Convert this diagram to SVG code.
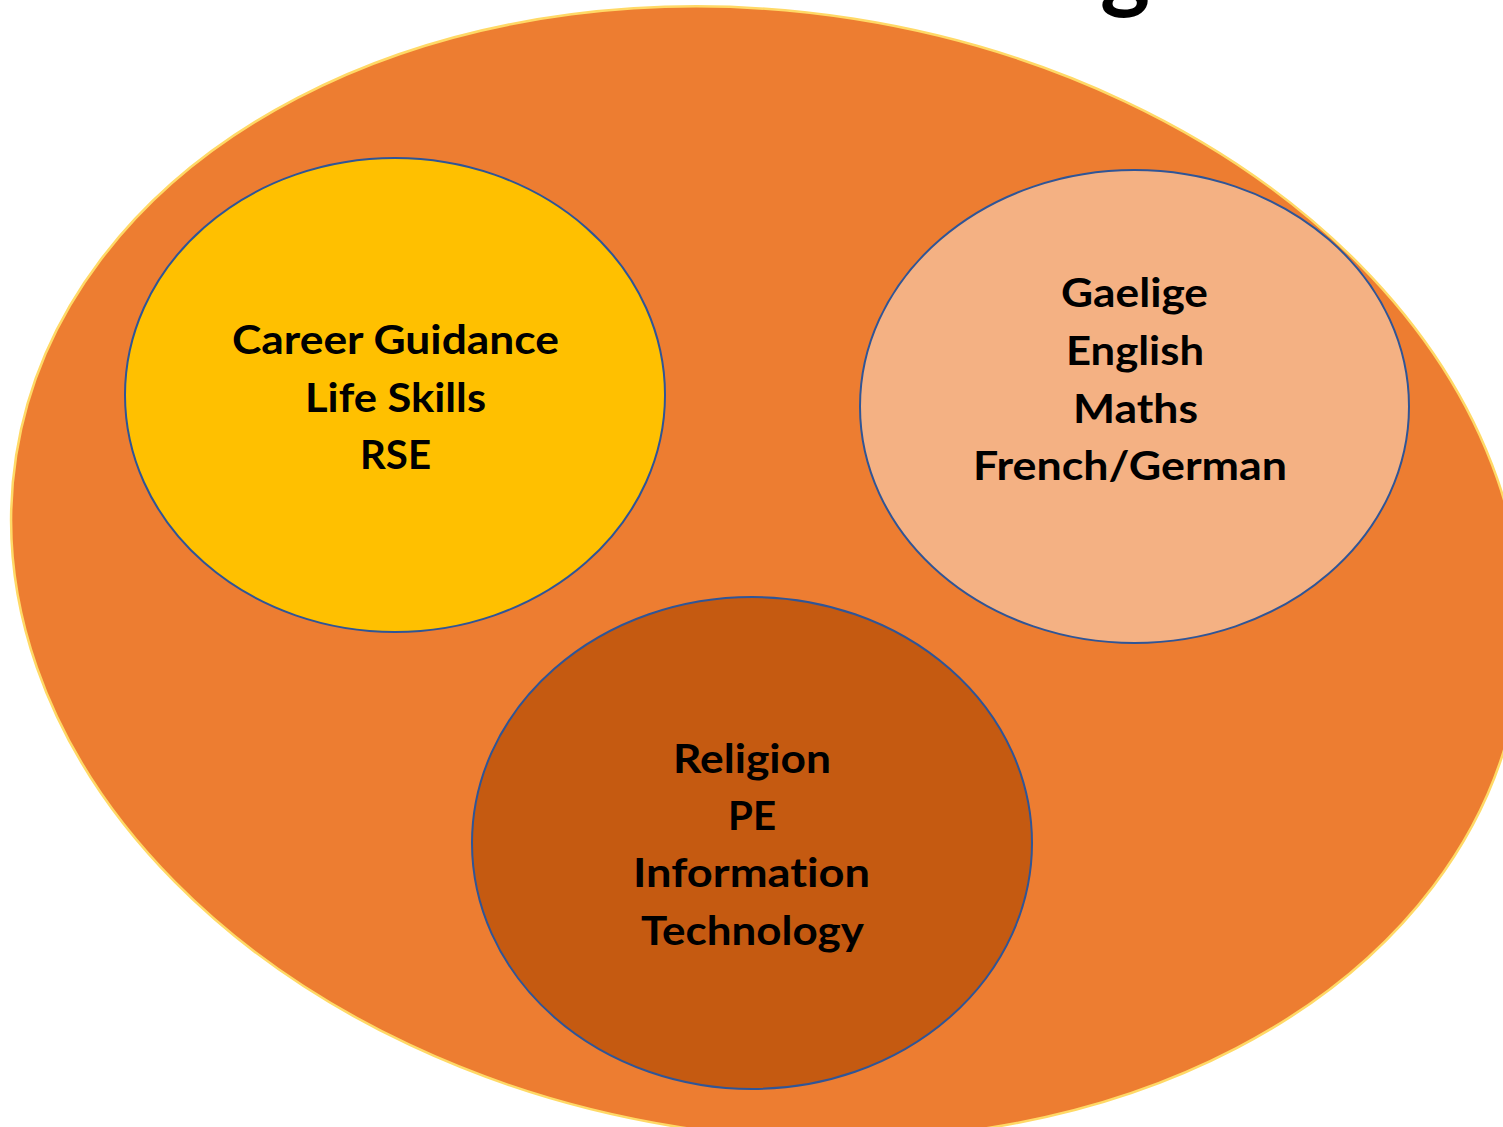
<svg xmlns="http://www.w3.org/2000/svg" width="1503" height="1127" viewBox="0 0 1503 1127">
<style>
.lbl{font-family:Lato,"Open Sans","Liberation Sans",sans-serif;font-weight:bold;font-size:40px;fill:#000;text-anchor:middle;font-variant-ligatures:none;font-feature-settings:"liga" 0,"clig" 0}
.inner{stroke:#2F5597;stroke-width:2}
</style>
<rect width="1503" height="1127" fill="#ffffff"/>
<text x="1125" y="1" class="lbl" style="font-size:95px">g</text>
<g id="outer">
<ellipse cx="767" cy="573" rx="760" ry="561" transform="rotate(8.91 767 573)" fill="#ED7D31" stroke="#FFD966" stroke-width="2.5"/>
</g>
<g id="connectors"></g>
<g id="node-yellow">
<ellipse class="inner" cx="395" cy="395" rx="270" ry="237" fill="#FFC000"/>
<text class="lbl" x="395.5" y="354" textLength="327" lengthAdjust="spacingAndGlyphs">Career Guidance</text>
<text class="lbl" x="395.5" y="412" textLength="181" lengthAdjust="spacingAndGlyphs">Life Skills</text>
<text class="lbl" x="395.5" y="469" textLength="71" lengthAdjust="spacingAndGlyphs">RSE</text>
</g>
<g id="node-peach">
<ellipse class="inner" cx="1134.5" cy="406.5" rx="274.5" ry="236.5" fill="#F4B183"/>
<text class="lbl" x="1134.5" y="307" textLength="147" lengthAdjust="spacingAndGlyphs">Gaelige</text>
<text class="lbl" x="1135" y="365" textLength="138" lengthAdjust="spacingAndGlyphs">English</text>
<text class="lbl" x="1135.5" y="423" textLength="125" lengthAdjust="spacingAndGlyphs">Maths</text>
<text class="lbl" x="1130" y="480" textLength="314" lengthAdjust="spacingAndGlyphs">French/German</text>
</g>
<g id="node-brown">
<ellipse class="inner" cx="752" cy="843" rx="280" ry="246" fill="#C55A11"/>
<text class="lbl" x="752" y="773" textLength="158" lengthAdjust="spacingAndGlyphs">Religion</text>
<text class="lbl" x="752" y="830" textLength="48" lengthAdjust="spacingAndGlyphs">PE</text>
<text class="lbl" x="751.5" y="887" textLength="237" lengthAdjust="spacingAndGlyphs">Information</text>
<text class="lbl" x="752.5" y="945" textLength="223" lengthAdjust="spacingAndGlyphs">Technology</text>
</g>
</svg>
